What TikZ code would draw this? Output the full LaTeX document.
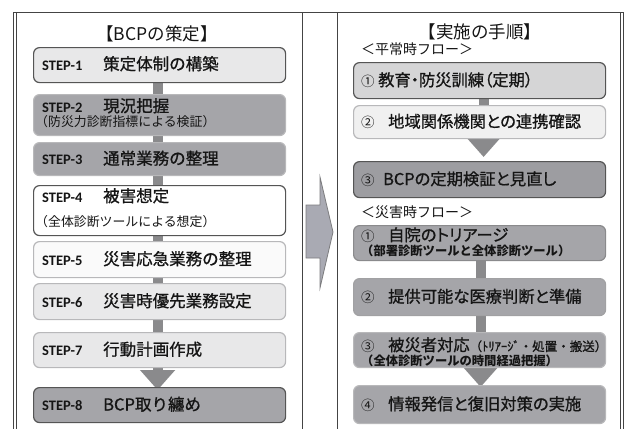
\documentclass[tikz,border=0pt]{standalone}
\usepackage{fontspec}
\newfontfamily\jp{Noto Sans CJK JP}
\newfontfamily\jpm{Noto Sans CJK JP}[FakeBold=0.9]
\newfontfamily\jpp{Noto Sans CJK JP}[RawFeature=+palt,FakeBold=0.9]
\newfontfamily\stepfont{Carlito}
\usetikzlibrary{arrows.meta,backgrounds}
\definecolor{dk}{HTML}{555555}
\definecolor{lt}{HTML}{B8B8BA}
\definecolor{midg}{HTML}{A5A5A9}
\definecolor{pale}{HTML}{E8E8E9}
\definecolor{paler}{HTML}{F0F0F0}
\definecolor{barc}{HTML}{8A8A8C}
\definecolor{arr}{HTML}{A9AAB3}
\definecolor{ink}{HTML}{151515}
\tikzset{
  box/.style={rounded corners=6pt, line width=1.2pt, minimum width=252pt, inner sep=0pt, anchor=north west},
  darkbox/.style={box, draw=dk},
  lightbox/.style={box, draw=lt},
  stepl/.style={anchor=base west, inner sep=0pt, text=ink, font=\stepfont\bfseries\fontsize{14.5}{14.5}\selectfont},
  mainl/.style={anchor=base west, inner sep=0pt, text=ink, font=\jpm\fontsize{16.5}{16.5}\selectfont},
  mainr/.style={anchor=base west, inner sep=0pt, text=ink, font=\jpp\fontsize{16.3}{16.3}\selectfont},
  numr/.style={anchor=base west, inner sep=0pt, text=ink, font=\jp\fontsize{13.5}{13.5}\selectfont},
  subl/.style={anchor=base west, inner sep=0pt, text=ink, font=\jp\fontsize{12.9}{12.9}\selectfont},
  subr/.style={anchor=base west, inner sep=0pt, text=ink, font=\jp\bfseries\fontsize{12.3}{12.3}\selectfont},
  flowl/.style={anchor=base west, inner sep=0pt, text=ink, font=\jp\fontsize{14}{14}\selectfont},
  titlel/.style={inner sep=0pt, text=ink, font=\jp\fontsize{17.5}{17.5}\selectfont},
  bar/.style={draw=barc, line width=10pt},
  arrowc/.style={draw=barc, line width=10pt, -{Triangle[width=34pt,length=20pt]}},
  panel/.style={draw=dk!80!black, line width=0.9pt}
}
\begin{document}
\begin{tikzpicture}[x=1pt,y=-1pt]
\useasboundingbox (0,0) rectangle (625,429);
\clip (0,0) rectangle (625,429);
% panels
\draw[panel] (16,12) rectangle (302,445);
\draw[panel] (337,12) rectangle (620,445);
\draw[panel] (13,12) -- (13,445);
\draw[panel] (623,12) -- (623,445);
\draw[panel] (13,12) -- (623,12);
% big arrow
\draw[fill=arr, draw=barc!90!black, line width=0.8pt]
  (306,205) -- (320,205) -- (320,177) -- (333,232) -- (320,288) -- (320,258) -- (306,258) -- cycle;

% left column
\node[titlel] (t1) at (157,34) {【BCPの策定】};
\node[darkbox, fill=pale, minimum height=35pt] (s1) at (33,47) {};
\node[stepl] (s1a) at (42,70) {STEP-1};
\node[mainl] (s1b) at (103,70) {策定体制の構築};

\node[lightbox, fill=midg, minimum height=41pt] (s2) at (33,94) {};
\node[stepl] (s2a) at (42,112) {STEP-2};
\node[mainl] (s2b) at (103,112) {現況把握};
\node[subl] (s2c) at (35,126) {（防災力診断指標による検証）};

\node[lightbox, fill=midg, minimum height=33pt] (s3) at (33,142) {};
\node[stepl] (s3a) at (42,164.5) {STEP-3};
\node[mainl] (s3b) at (103,164.5) {通常業務の整理};

\node[darkbox, fill=white, minimum height=50pt] (s4) at (33,185) {};
\node[stepl] (s4a) at (42,202) {STEP-4};
\node[mainl] (s4b) at (103,202) {被害想定};
\node[subl] (s4c) at (35,226) {（全体診断ツールによる想定）};

\node[lightbox, fill=white!98!black, minimum height=36pt] (s5) at (33,241) {};
\node[stepl] (s5a) at (42,265) {STEP-5};
\node[mainl] (s5b) at (103,265) {災害応急業務の整理};

\node[lightbox, fill=pale!95!white, minimum height=36pt] (s6) at (33,283) {};
\node[stepl] (s6a) at (42,307) {STEP-6};
\node[mainl] (s6b) at (103,307) {災害時優先業務設定};

\node[lightbox, fill=pale, minimum height=35pt] (s7) at (33,332) {};
\node[stepl] (s7a) at (42,355.5) {STEP-7};
\node[mainl] (s7b) at (103,355.5) {行動計画作成};

\node[darkbox, fill=midg, minimum height=35pt] (s8) at (33,387) {};
\node[stepl] (s8a) at (42,410.5) {STEP-8};
\node[mainl] (s8b) at (103,410.5) {BCP取り纏め};

% right column
\node[titlel] (t2) at (480,32) {【実施の手順】};
\node[flowl] (f1) at (361,54) {＜平常時フロー＞};
\node[darkbox, fill=pale!92!black, minimum height=36pt] (r1) at (353,62) {};
\node[numr] (r1n) at (361,86) {①};
\node[mainr] (r1t) at (378,86) {教育・防災訓練（定期）};

\node[lightbox, fill=paler, minimum height=33pt] (r2) at (353,105) {};
\node[numr] (r2n) at (361,127.5) {②};
\node[mainr] (r2t) at (388,127.5) {地域関係機関との連携確認};

\node[darkbox, fill=midg!95!black, minimum height=36pt] (r3) at (353,161) {};
\node[numr] (r3n) at (361,185) {③};
\node[mainr] (r3t) at (383,185) {BCPの定期検証と見直し};

\node[flowl] (f2) at (361,217) {＜災害時フロー＞};
\node[box, draw=barc, fill=midg, minimum height=35pt] (d1) at (353,225) {};
\node[numr] (d1n) at (361,241) {①};
\node[mainr] (d1t) at (388,241) {自院のトリアージ};
\node[subr] (d1s) at (361,255) {（部署診断ツールと全体診断ツール）};

\node[box, draw=barc!80!white, fill=midg, minimum height=37pt] (d2) at (353,278) {};
\node[numr] (d2n) at (361,302.5) {②};
\node[mainr] (d2t) at (388,302.5) {提供可能な医療判断と準備};

\node[lightbox, fill=midg, minimum height=35pt] (d3) at (353,332) {};
\node[numr] (d3n) at (361,351) {③};
\node[mainr] (d3t) at (388,351) {被災者対応{\jpm\fontsize{12.5}{12.5}\selectfont （ﾄﾘｱｰｼﾞ・処置・搬送）}};
\node[subr] (d3s) at (361,365) {（全体診断ツールの時間経過把握）};

\node[lightbox, fill=midg, minimum height=38pt] (d4) at (353,385) {};
\node[numr] (d4n) at (361,410) {④};
\node[mainr] (d4t) at (388,410) {情報発信と復旧対策の実施};

% connectors
\begin{scope}[on background layer]
\fill[white] (0,0) rectangle (625,429);
\draw[bar] ([xshift=-2pt]s1.south) -- ([xshift=-2pt]s2.north);
\draw[bar] ([xshift=-2pt]s2.south) -- ([xshift=-2pt]s3.north);
\draw[bar] ([xshift=-2pt]s3.south) -- ([xshift=-2pt]s4.north);
\draw[bar] ([xshift=-2pt]s4.south) -- ([xshift=-2pt]s5.north);
\draw[bar] ([xshift=-2pt]s5.south) -- ([xshift=-2pt]s6.north);
\draw[bar] ([xshift=-2pt]s6.south) -- ([xshift=-2pt]s7.north);
\draw[arrowc] ([xshift=-2pt]s7.south) -- ([xshift=-2pt,yshift=-3pt]s8.north);
\draw[bar] ([xshift=4pt]r1.south) -- ([xshift=4pt]r2.north);
\draw[arrowc] ([xshift=4pt]r2.south) -- ([xshift=4pt,yshift=4pt]r3.north);
\draw[bar] ([xshift=1pt]d1.south) -- ([xshift=1pt]d2.north);
\draw[bar] ([xshift=1pt]d2.south) -- ([xshift=1pt]d3.north);
\draw[arrowc] ([xshift=1pt]d3.south) -- ([xshift=1pt,yshift=-2pt]d4.north);
\end{scope}
\end{tikzpicture}
\end{document}
